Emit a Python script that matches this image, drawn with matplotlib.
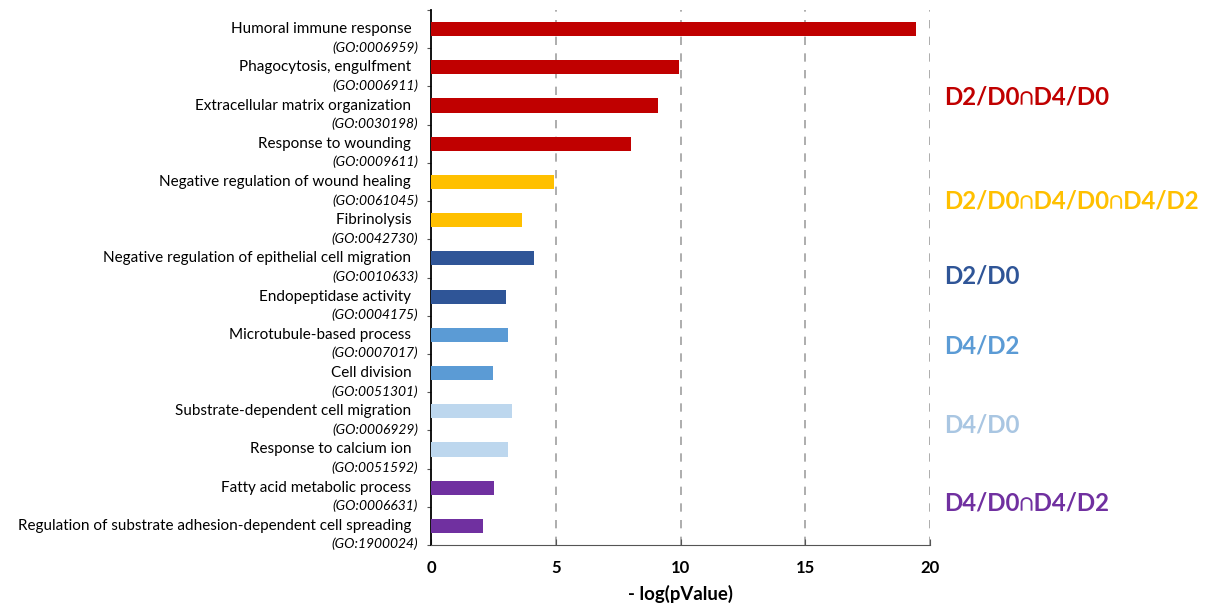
import matplotlib.pyplot as plt
from matplotlib.transforms import blended_transform_factory

terms = [
    "Humoral immune response",
    "Phagocytosis, engulfment",
    "Extracellular matrix organization",
    "Response to wounding",
    "Negative regulation of wound healing",
    "Fibrinolysis",
    "Negative regulation of epithelial cell migration",
    "Endopeptidase activity",
    "Microtubule-based process",
    "Cell division",
    "Substrate-dependent cell migration",
    "Response to calcium ion",
    "Fatty acid metabolic process",
    "Regulation of substrate adhesion-dependent cell spreading",
]
go_ids = [
    "(GO:0006959)", "(GO:0006911)", "(GO:0030198)", "(GO:0009611)",
    "(GO:0061045)", "(GO:0042730)", "(GO:0010633)", "(GO:0004175)",
    "(GO:0007017)", "(GO:0051301)", "(GO:0006929)", "(GO:0051592)",
    "(GO:0006631)", "(GO:1900024)",
]
neg_log_p = [19.43, 9.92, 9.09, 8.01, 4.91, 3.65, 4.11, 2.99,
             3.07, 2.49, 3.24, 3.07, 2.51, 2.10]
group_of_term = [0, 0, 0, 0, 1, 1, 2, 2, 3, 3, 4, 4, 5, 5]

group_names = ["D2/D0\u2229D4/D0", "D2/D0\u2229D4/D0\u2229D4/D2", "D2/D0",
               "D4/D2", "D4/D0", "D4/D0\u2229D4/D2"]
group_bar_colors = ["#C00000", "#FFC000", "#2F5597", "#5B9BD5", "#BDD7EE", "#7030A0"]
group_text_colors = ["#C00000", "#FFC000", "#2F5597", "#5B9BD5", "#A9C6E2", "#7030A0"]
group_label_pos = [1.77, 4.5, 6.47, 8.3, 10.35, 12.4]

plt.rcParams['font.family'] = ['Lato', 'DejaVu Sans']

fig = plt.figure(figsize=(12.11, 6.04), dpi=100)
ax = fig.add_axes([431 / 1211, 59 / 604, 499 / 1211, 535 / 604])

ypos = list(range(len(terms)))
colors = [group_bar_colors[g] for g in group_of_term]
ax.barh(ypos, neg_log_p, height=0.37, color=colors, zorder=3)

ax.set_ylim(len(terms) - 0.5, -0.5)
ax.set_xlim(0, 20)
ax.set_xticks([0, 5, 10, 15, 20])
ax.set_xticklabels(["0", "5", "10", "15", "20"], fontweight='bold', fontsize=12)
ax.tick_params(axis='x', direction='in', length=4, color='#555555', pad=11)
ax.set_yticks([i - 0.5 for i in range(len(terms) + 1)])
ax.set_yticklabels([])
ax.tick_params(axis='y', direction='out', length=3, color='#555555')

for x in [5, 10, 15, 20]:
    ax.axvline(x, color='#A0A0A0', linestyle=(0, (5, 5)), linewidth=1.2, zorder=1)

for side in ['top', 'right']:
    ax.spines[side].set_visible(False)
ax.spines['left'].set_color('black')
ax.spines['left'].set_linewidth(1.3)
ax.spines['bottom'].set_color('#555555')

ax.set_xlabel("- log(pValue)", fontweight='bold', fontsize=13.4, labelpad=6)

trans = blended_transform_factory(ax.transAxes, ax.transData)
for i, (name, go) in enumerate(zip(terms, go_ids)):
    ax.text(-0.032, i, name + " ", transform=trans, ha='right', va='center', fontsize=11)
    ax.text(-0.026, i + 0.48, go, transform=trans, ha='right', va='center',
            fontsize=10, style='italic')

for name, c, y in zip(group_names, group_text_colors, group_label_pos):
    ax.text(1.028, y, name, transform=trans, ha='left', va='center',
            fontsize=17.3, fontweight='bold', color=c)

fig.savefig("out.png", dpi=100)
